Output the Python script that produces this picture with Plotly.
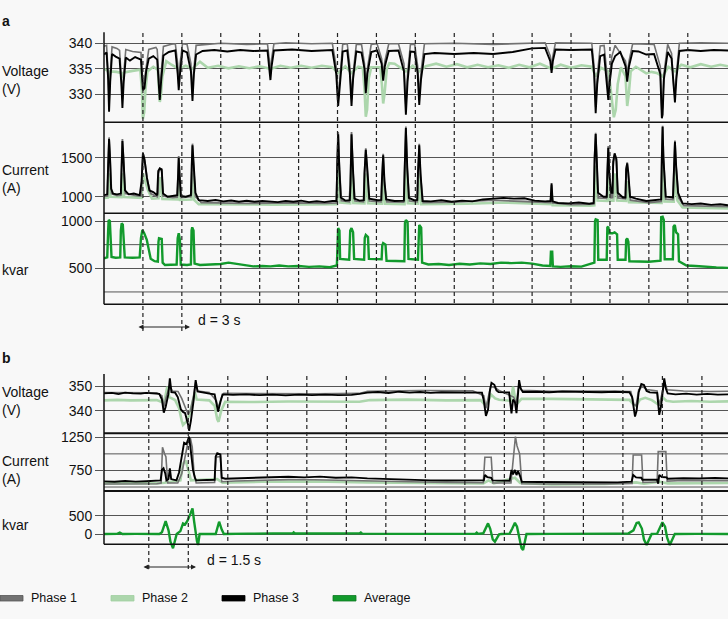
import plotly.graph_objects as go

# ---------------- DATA (time in s) ----------------
# Panel a: voltage (V)
VA_P1 = [(0.0, 339.4), (0.2, 339.6), (0.32, 334), (0.39, 328), (0.48, 334), (0.62, 339.3), (1.0, 339.0), (1.2, 338.6),
         (1.34, 333), (1.42, 329), (1.52, 334), (1.68, 338.8), (2.2, 338.4), (2.85, 338.2), (2.95, 334), (3.0, 332),
         (3.12, 333), (3.25, 335.5), (3.45, 338.8), (4.0, 339.2), (4.1, 338.8), (4.22, 334), (4.3, 330.5), (4.4, 334),
         (4.58, 339.4), (5.2, 339.8), (5.5, 339.9), (5.68, 336), (5.76, 332), (5.86, 336), (6.05, 339.9), (6.4, 339.8),
         (6.7, 336), (6.82, 330), (6.93, 335), (7.1, 339.6), (9.0, 340.0), (11.0, 339.8), (12.6, 339.9), (12.75, 336.5),
         (12.83, 334), (12.92, 337), (13.1, 339.9), (14.0, 340.1), (16.0, 339.9), (17.6, 340.0), (17.9, 335.5), (18.05, 329),
         (18.2, 334), (18.4, 339.8), (18.75, 339.9), (18.95, 335.5), (19.08, 329), (19.2, 334), (19.45, 339.8), (19.85, 339.8),
         (20.08, 336), (20.18, 331.5), (20.3, 335), (20.6, 339.8), (21.05, 339.9), (21.4, 337), (21.52, 334), (21.65, 336.5),
         (21.95, 339.9), (22.7, 339.9), (23.12, 336), (23.27, 327.5), (23.4, 334), (23.62, 339.8), (23.95, 339.8), (24.18, 335.5),
         (24.3, 329.5), (24.44, 334.5), (24.7, 339.9), (27.0, 340.0), (30.0, 339.8), (33.0, 340.1), (34.0, 340.1), (34.4, 337.5),
         (34.5, 335.5), (34.6, 337.5), (34.8, 340.1), (37.6, 340.0), (37.78, 335.5), (37.9, 327.5), (38.02, 333.5), (38.25, 339.5),
         (38.55, 339.6), (38.75, 334.5), (38.87, 330.5), (38.97, 333.5), (39.15, 337.5), (39.4, 339.6), (40.2, 336.5),
         (40.33, 334), (40.47, 336.5), (40.75, 339.9), (42.4, 339.8), (42.88, 335.5), (43.0, 326.5), (43.06, 327.5), (43.16, 334),
         (43.45, 339.8), (43.75, 338.0), (43.92, 331.5), (44.01, 330), (44.12, 334), (44.35, 340.0), (46.0, 340.1), (48.1, 340.0)]
VA_P2 = [(0.0, 335.0), (0.3, 334.6), (0.39, 333.0), (0.5, 334.5), (0.97, 334.4), (1.35, 334.2), (1.42, 333.3), (1.55, 334.3),
         (2.2, 334.6), (2.8, 334.8), (2.92, 331), (3.0, 325.2), (3.1, 326.5), (3.2, 331), (3.35, 334.5), (3.8, 335.4),
         (4.15, 334.8), (4.25, 330), (4.3, 328.5), (4.38, 329.5), (4.5, 333.5), (4.8, 336.5), (5.2, 335.8), (5.76, 335.0),
         (6.3, 335.6), (6.82, 335.0), (7.4, 336.4), (8.0, 335.2), (8.8, 335.6), (9.6, 335.1), (10.4, 335.5), (11.2, 335.1),
         (12.0, 335.5), (12.83, 335.0), (13.6, 335.6), (14.4, 335.2), (15.2, 335.6), (16.0, 335.2), (16.8, 335.6), (17.6, 335.3),
         (18.05, 334.2), (18.6, 335.5), (19.08, 334.2), (19.6, 335.4), (19.95, 335.2), (20.08, 331), (20.18, 325.6), (20.28, 327),
         (20.4, 333), (20.6, 335.3), (21.3, 335.3), (21.42, 332), (21.52, 328.2), (21.62, 330), (21.8, 335), (22.0, 336.1),
         (22.4, 336.0), (22.8, 335.3), (23.27, 334.5), (23.8, 335.6), (24.3, 334.5), (24.8, 335.5), (25.6, 336.0), (26.4, 335.4),
         (27.2, 335.9), (28.0, 335.3), (28.8, 335.8), (29.6, 335.3), (30.4, 335.7), (31.2, 335.2), (32.0, 335.8), (32.8, 335.3),
         (33.6, 336.0), (34.5, 335.0), (35.2, 335.8), (36.0, 335.2), (36.8, 335.7), (37.6, 335.4), (37.9, 333.5), (38.3, 335.2),
         (38.9, 334.5), (39.1, 330), (39.3, 325.5), (39.45, 327), (39.6, 332), (39.85, 335.3), (40.2, 333.5), (40.33, 327.7),
         (40.45, 330), (40.6, 334.5), (41.0, 335.4), (41.5, 334.6), (41.8, 334.1), (42.2, 334.4), (42.6, 334.2), (43.06, 333.5),
         (43.5, 335.4), (44.01, 334.5), (44.5, 335.8), (45.2, 335.3), (46.0, 335.9), (46.8, 335.4), (47.5, 335.8), (48.1, 335.5)]
VA_P3 = [(0.0, 337.8), (0.2, 338.2), (0.32, 333.0), (0.39, 326.6), (0.48, 332.5), (0.62, 337.9), (0.9, 337.4), (1.2, 337.0),
         (1.34, 332.0), (1.42, 327.3), (1.52, 332.5), (1.68, 337.2), (2.0, 336.6), (2.4, 337.3), (2.85, 336.8), (2.95, 332.5),
         (3.0, 330.8), (3.12, 331.2), (3.25, 334.5), (3.45, 337.0), (3.8, 337.5), (4.1, 336.8), (4.22, 332.0), (4.3, 328.9),
         (4.4, 332.5), (4.58, 337.6), (5.0, 338.3), (5.5, 338.6), (5.68, 334.0), (5.76, 330.8), (5.86, 334.0), (6.05, 338.6),
         (6.4, 338.2), (6.7, 334.5), (6.82, 328.7), (6.93, 334.0), (7.1, 337.8), (7.6, 338.5), (8.5, 338.7), (9.5, 338.4),
         (10.5, 338.7), (11.5, 338.5), (12.6, 338.6), (12.75, 335.0), (12.83, 332.8), (12.92, 335.5), (13.1, 338.6), (14.5, 338.8),
         (16.0, 338.5), (17.6, 338.7), (17.9, 334.0), (18.05, 327.7), (18.2, 333.0), (18.4, 338.4), (18.75, 338.6), (18.95, 334.0),
         (19.08, 327.7), (19.2, 333.0), (19.45, 338.4), (19.85, 338.2), (20.08, 335.0), (20.18, 330.2), (20.3, 334.0), (20.6, 338.3),
         (21.05, 338.6), (21.4, 336.0), (21.52, 332.7), (21.65, 335.5), (21.95, 338.5), (22.7, 338.6), (23.12, 334.5), (23.27, 326.0),
         (23.4, 332.5), (23.62, 338.4), (23.95, 338.3), (24.18, 334.0), (24.3, 327.9), (24.44, 333.0), (24.7, 337.9), (25.5, 338.1),
         (27.0, 337.9), (28.5, 338.1), (30.0, 337.9), (31.5, 338.3), (33.0, 339.0), (34.0, 339.1), (34.4, 336.5), (34.5, 334.2),
         (34.6, 336.5), (34.8, 338.8), (36.0, 338.7), (37.6, 338.8), (37.78, 334.0), (37.9, 326.3), (38.02, 332.0), (38.25, 337.5),
         (38.55, 337.8), (38.75, 333.0), (38.87, 328.9), (38.97, 332.0), (39.15, 336.0), (39.4, 337.5), (39.8, 338.3), (40.2, 335.5),
         (40.33, 332.5), (40.47, 335.5), (40.75, 338.5), (41.2, 338.4), (41.8, 337.8), (42.4, 337.9), (42.88, 334.0), (43.0, 325.3),
         (43.06, 326.0), (43.16, 333.0), (43.45, 338.3), (43.75, 337.0), (43.92, 330.0), (44.01, 328.4), (44.12, 333.0),
         (44.35, 338.5), (45.0, 338.7), (46.0, 338.5), (47.0, 338.7), (48.1, 338.6)]

# Panel a: current (A)
IA_P1 = [(0.0, 1005), (0.27, 1010), (0.32, 1400), (0.39, 1760), (0.47, 1500), (0.58, 1040), (1.0, 1015), (1.3, 1020),
         (1.36, 1450), (1.42, 1740), (1.52, 1400), (1.65, 1040), (2.3, 1020), (2.85, 1010), (2.9, 1150), (3.0, 1560),
         (3.15, 1450), (3.35, 1200), (3.6, 1040), (4.1, 1000), (4.16, 1050), (4.2, 1300), (4.3, 1350), (4.45, 1330),
         (4.55, 1010), (5.3, 990), (5.64, 995), (5.7, 1200), (5.76, 1520), (5.84, 1250), (5.95, 990), (6.7, 1000), (6.74, 1050),
         (6.78, 1380), (6.82, 1680), (6.9, 1400), (7.05, 1000), (7.5, 925), (9.0, 920), (11.0, 915), (13.0, 918), (15.0, 922),
         (17.0, 915), (17.92, 920), (17.98, 1450), (18.05, 1830), (18.15, 1350), (18.3, 950), (18.9, 935), (18.98, 1150),
         (19.08, 1830), (19.18, 1350), (19.35, 945), (20.0, 935), (20.08, 1300), (20.18, 1620), (20.3, 1300), (20.45, 945),
         (21.35, 935), (21.42, 1200), (21.52, 1550), (21.62, 1150), (21.8, 935), (23.1, 930), (23.17, 1350), (23.27, 1900),
         (23.37, 1350), (23.55, 945), (24.13, 935), (24.2, 1300), (24.3, 1680), (24.4, 1250), (24.6, 925), (27.0, 930),
         (30.0, 955), (33.0, 935), (34.42, 925), (34.5, 1150), (34.58, 920), (36.0, 900), (37.75, 905), (37.82, 1520),
         (37.9, 1820), (37.98, 1450), (38.1, 985), (38.73, 980), (38.8, 1350), (38.87, 1650), (38.95, 1250), (39.1, 985),
         (39.2, 990), (39.25, 1400), (39.36, 1540), (39.5, 1450), (39.62, 985), (40.18, 975), (40.25, 1350), (40.33, 1440),
         (40.42, 1250), (40.58, 955), (42.0, 925), (42.95, 940), (43.0, 1550), (43.06, 1910), (43.12, 1550), (43.3, 970),
         (43.86, 965), (43.93, 1450), (44.01, 1720), (44.1, 1380), (44.3, 985), (44.7, 885), (46.5, 878), (48.1, 872)]
IA_P2 = [(0.0, 985), (0.3, 990), (0.39, 1300), (0.5, 1000), (1.35, 995), (1.42, 1300), (1.55, 995), (2.5, 990), (2.9, 985),
         (3.0, 1300), (3.4, 1080), (3.7, 975), (4.2, 980), (4.3, 1250), (4.5, 970), (5.68, 965), (5.76, 1250), (5.86, 960),
         (6.74, 965), (6.82, 1300), (6.95, 960), (7.3, 905), (10.0, 900), (13.0, 898), (16.0, 902), (17.95, 905), (18.05, 1400),
         (18.2, 925), (18.98, 915), (19.08, 1400), (19.22, 920), (20.08, 915), (20.18, 1300), (20.35, 915), (21.42, 910),
         (21.52, 1250), (21.65, 910), (23.17, 905), (23.27, 1400), (23.42, 915), (24.2, 910), (24.3, 1300), (24.45, 905),
         (28.0, 910), (31.0, 925), (34.0, 910), (34.45, 905), (34.5, 1050), (34.58, 890), (37.5, 885), (37.8, 890), (37.9, 1400),
         (38.05, 950), (38.78, 945), (38.87, 1300), (38.98, 950), (39.27, 950), (39.36, 1300), (39.55, 950), (40.25, 945),
         (40.33, 1200), (40.47, 930), (42.9, 915), (42.98, 920), (43.06, 1450), (43.2, 940), (43.92, 935), (44.01, 1350),
         (44.2, 950), (44.6, 862), (48.1, 850)]
IA_P3 = [(0.0, 1020), (0.25, 1030), (0.32, 1400), (0.39, 1740), (0.45, 1550), (0.55, 1100), (0.7, 1040), (1.0, 1030),
         (1.3, 1040), (1.36, 1450), (1.42, 1714), (1.5, 1500), (1.62, 1080), (1.9, 1030), (2.3, 1040), (2.75, 1020), (2.9, 1200),
         (3.0, 1556), (3.12, 1480), (3.3, 1250), (3.5, 1080), (3.8, 1060), (4.1, 1020), (4.18, 1330), (4.3, 1364), (4.45, 1350),
         (4.55, 1040), (4.9, 1000), (5.3, 1010), (5.65, 1020), (5.72, 1300), (5.76, 1500), (5.82, 1300), (5.92, 1010), (6.3, 1000),
         (6.7, 1020), (6.76, 1400), (6.82, 1659), (6.9, 1450), (7.05, 1050), (7.3, 955), (8.0, 945), (8.6, 958), (9.2, 940),
         (9.8, 952), (10.4, 935), (11.0, 948), (11.6, 935), (12.2, 945), (12.83, 940), (13.4, 930), (14.0, 945), (14.6, 935),
         (15.2, 950), (15.8, 930), (16.4, 942), (17.0, 930), (17.6, 945), (17.92, 945), (17.98, 1400), (18.05, 1800),
         (18.12, 1450), (18.25, 990), (18.6, 950), (18.95, 955), (19.0, 1150), (19.08, 1800), (19.18, 1400), (19.3, 975),
         (19.7, 950), (20.03, 955), (20.08, 1300), (20.18, 1600), (20.3, 1350), (20.45, 975), (21.1, 955), (21.38, 958),
         (21.42, 1200), (21.52, 1530), (21.62, 1200), (21.75, 965), (22.4, 945), (23.12, 950), (23.17, 1300), (23.27, 1880),
         (23.37, 1400), (23.5, 985), (23.9, 955), (24.15, 960), (24.2, 1300), (24.3, 1660), (24.4, 1300), (24.55, 945),
         (25.2, 940), (26.0, 955), (26.8, 935), (27.6, 950), (28.4, 940), (29.2, 965), (30.0, 975), (30.8, 985), (31.6, 975),
         (32.4, 980), (33.2, 950), (34.0, 940), (34.42, 945), (34.5, 1172), (34.58, 940), (35.0, 920), (35.8, 915), (36.6, 925),
         (37.4, 910), (37.75, 920), (37.82, 1500), (37.9, 1804), (37.98, 1500), (38.08, 1050), (38.5, 1000), (38.76, 1000),
         (38.8, 1300), (38.87, 1628), (38.95, 1300), (39.1, 1050), (39.2, 1050), (39.25, 1450), (39.36, 1556), (39.5, 1480),
         (39.6, 1050), (40.0, 990), (40.2, 990), (40.25, 1350), (40.33, 1428), (40.42, 1300), (40.55, 1000), (41.0, 975),
         (41.8, 945), (42.5, 955), (42.95, 965), (43.0, 1500), (43.06, 1897), (43.12, 1500), (43.3, 1000), (43.86, 990),
         (43.93, 1400), (44.01, 1705), (44.1, 1400), (44.25, 1050), (44.6, 915), (45.3, 905), (46.0, 912), (46.8, 895),
         (47.5, 903), (48.1, 890)]

# Panel a: reactive power (kvar), average
QA_AVG = [(0.0, 606), (0.25, 615), (0.32, 900), (0.36, 1010), (0.45, 1000), (0.5, 760), (0.58, 620), (0.9, 612), (1.25, 615),
          (1.3, 900), (1.36, 976), (1.45, 960), (1.52, 700), (1.6, 616), (2.2, 612), (2.75, 615), (2.85, 820), (2.96, 905),
          (3.1, 870), (3.3, 800), (3.45, 700), (3.6, 600), (3.9, 575), (4.15, 570), (4.2, 780), (4.24, 817), (4.45, 810),
          (4.52, 560), (4.7, 535), (5.3, 535), (5.6, 540), (5.68, 820), (5.76, 870), (5.85, 800), (5.92, 540), (6.4, 535),
          (6.7, 540), (6.75, 900), (6.8, 933), (6.9, 900), (6.98, 550), (7.4, 535), (8.2, 540), (9.0, 545), (9.6, 560),
          (10.2, 545), (10.8, 530), (11.5, 520), (12.2, 525), (12.83, 520), (13.5, 530), (14.2, 520), (15.0, 525), (15.8, 515),
          (16.6, 520), (17.4, 512), (17.95, 530), (18.0, 900), (18.05, 925), (18.15, 900), (18.2, 600), (18.9, 590), (18.98, 900),
          (19.08, 925), (19.2, 880), (19.28, 600), (20.05, 590), (20.1, 820), (20.18, 852), (20.35, 830), (20.42, 600),
          (21.4, 595), (21.45, 740), (21.52, 767), (21.7, 750), (21.78, 580), (23.15, 575), (23.2, 980), (23.27, 1010),
          (23.4, 990), (23.47, 600), (24.2, 590), (24.25, 930), (24.3, 958), (24.45, 930), (24.52, 560), (25.0, 540),
          (25.8, 545), (26.6, 535), (27.4, 548), (28.2, 540), (29.0, 552), (29.8, 545), (30.6, 560), (31.4, 555), (32.2, 560),
          (33.0, 550), (33.8, 530), (34.4, 525), (34.45, 676), (34.55, 676), (34.6, 520), (35.2, 515), (36.0, 522), (36.8, 518),
          (37.6, 550), (37.8, 560), (37.85, 1000), (37.9, 1018), (38.05, 1010), (38.1, 590), (38.75, 590), (38.8, 930),
          (38.87, 940), (38.95, 870), (39.2, 870), (39.36, 880), (39.55, 860), (39.6, 590), (40.2, 590), (40.25, 800),
          (40.33, 817), (40.42, 780), (40.5, 575), (41.2, 575), (42.0, 570), (42.9, 580), (42.95, 1040), (43.06, 1045),
          (43.15, 1010), (43.22, 595), (43.85, 595), (43.9, 940), (44.0, 958), (44.1, 880), (44.25, 860), (44.32, 575),
          (44.5, 560), (44.9, 530), (45.6, 525), (46.4, 515), (47.2, 510), (48.1, 505)]

# Panel b: voltage (V)
VB_P1 = [(0.0, 347.3), (1.0, 347.3), (2.0, 347.2), (2.2, 346.0), (2.27, 341.5), (2.36, 345.5), (2.45, 348.5), (2.52, 349.5),
         (2.6, 348.0), (2.81, 347.8), (2.95, 345.0), (3.1, 341.0), (3.2, 338.5), (3.28, 340.0), (3.4, 346.0), (3.48, 351.5),
         (3.56, 348.0), (4.0, 347.4), (4.27, 344.0), (4.33, 341.0), (4.45, 345.0), (4.55, 347.0), (6.0, 346.8), (8.0, 346.8),
         (9.7, 347.0), (10.0, 347.9), (12.0, 348.2), (14.0, 348.1), (14.42, 346.0), (14.5, 341.0), (14.6, 346.0), (14.68, 349.8),
         (14.85, 349.3), (15.0, 348.2), (15.45, 346.0), (15.55, 345.5), (15.65, 343.0), (15.75, 350.5), (15.85, 348.3),
         (17.0, 347.9), (19.0, 348.0), (20.0, 347.8), (20.12, 342.5), (20.2, 342.0), (20.3, 348.5), (20.45, 349.8), (20.6, 348.6),
         (21.0, 348.0), (21.08, 342.0), (21.2, 348.0), (21.28, 351.5), (21.38, 348.5), (22.0, 348.0), (23.0, 347.8), (23.7, 347.9)]
VB_P2 = [(0.0, 344.2), (0.5, 344.4), (1.0, 344.2), (1.5, 344.4), (2.0, 344.3), (2.2, 343.5), (2.3, 344.0), (2.4, 349.7),
         (2.48, 345.5), (2.7, 344.3), (2.85, 341.0), (2.95, 336.0), (3.0, 334.2), (3.12, 335.5), (3.25, 338.5), (3.35, 343.0),
         (3.45, 347.5), (3.52, 344.5), (4.0, 344.2), (4.2, 342.0), (4.3, 336.5), (4.35, 335.5), (4.45, 340.0), (4.6, 343.6),
         (5.5, 343.5), (7.0, 343.7), (8.5, 343.5), (9.7, 343.6), (10.1, 344.3), (11.5, 344.5), (13.0, 344.2), (14.3, 344.3),
         (14.45, 342.5), (14.55, 343.0), (14.7, 346.5), (14.85, 345.0), (15.0, 344.4), (15.45, 344.0), (15.53, 349.7),
         (15.6, 345.5), (15.7, 343.0), (15.85, 344.8), (17.0, 344.8), (18.5, 344.5), (19.95, 344.4), (20.1, 342.5), (20.2, 342.0),
         (20.35, 344.5), (20.55, 345.2), (20.8, 344.3), (21.05, 342.5), (21.2, 345.5), (21.35, 344.0), (21.6, 343.6),
         (22.3, 343.9), (23.0, 343.6), (23.7, 343.8)]
VB_P3 = [(0.0, 347.0), (0.3, 347.2), (0.55, 346.7), (0.8, 347.3), (1.1, 347.0), (1.4, 346.9), (1.6, 347.2), (1.9, 347.0),
         (2.1, 346.8), (2.2, 344.5), (2.27, 339.2), (2.34, 341.5), (2.44, 346.5), (2.5, 353.1), (2.56, 347.5), (2.7, 347.3),
         (2.8, 345.5), (2.92, 340.5), (3.0, 339.5), (3.08, 339.0), (3.13, 337.2), (3.2, 334.0), (3.23, 331.9), (3.3, 336.0),
         (3.4, 344.0), (3.45, 350.5), (3.48, 352.4), (3.55, 347.8), (3.75, 347.3), (4.0, 346.9), (4.2, 346.6), (4.27, 342.5),
         (4.33, 339.6), (4.42, 343.5), (4.5, 346.6), (4.9, 346.4), (5.4, 346.6), (5.9, 346.3), (6.4, 346.5), (6.9, 346.2),
         (7.4, 346.5), (7.9, 346.3), (8.4, 346.5), (8.9, 346.3), (9.4, 346.4), (9.7, 346.8), (10.0, 347.3), (10.4, 347.6),
         (10.8, 347.2), (11.2, 347.7), (11.6, 347.3), (12.0, 347.6), (12.4, 347.2), (12.8, 347.5), (13.2, 347.4), (13.6, 347.6),
         (14.0, 347.4), (14.35, 347.3), (14.42, 344.0), (14.5, 337.9), (14.58, 340.5), (14.65, 348.0), (14.71, 351.3),
         (14.82, 350.5), (14.9, 348.2), (14.98, 347.5), (15.38, 347.4), (15.43, 342.0), (15.47, 338.9), (15.53, 344.5),
         (15.6, 343.5), (15.66, 339.0), (15.72, 347.0), (15.76, 352.4), (15.82, 349.0), (15.9, 347.6), (16.4, 347.7),
         (16.9, 347.5), (17.4, 347.8), (17.9, 347.6), (18.4, 347.7), (18.9, 347.5), (19.4, 347.7), (19.95, 347.5), (20.05, 345.5),
         (20.16, 337.6), (20.22, 340.0), (20.3, 347.5), (20.4, 350.8), (20.5, 350.4), (20.6, 348.0), (20.72, 347.4), (21.0, 347.2),
         (21.05, 343.0), (21.08, 338.3), (21.15, 342.0), (21.22, 349.0), (21.27, 353.1), (21.33, 349.0), (21.4, 347.0),
         (21.7, 346.6), (22.1, 346.9), (22.5, 346.5), (22.9, 346.8), (23.3, 346.5), (23.7, 346.6)]

# Panel b: current (A)
IB_P1 = [(0.0, 545), (1.0, 545), (2.0, 550), (2.17, 560), (2.22, 1099), (2.3, 1000), (2.35, 958), (2.42, 560), (2.8, 560),
         (2.95, 700), (3.1, 1000), (3.2, 1200), (3.28, 1235), (3.35, 1100), (3.42, 700), (3.5, 560), (4.2, 570), (4.25, 950),
         (4.42, 960), (4.47, 580), (5.0, 590), (6.0, 605), (7.0, 612), (8.0, 610), (9.0, 600), (10.0, 590), (11.0, 580),
         (12.0, 572), (13.0, 568), (14.4, 565), (14.46, 949), (14.7, 949), (14.76, 560), (15.45, 560), (15.5, 800), (15.56, 1080),
         (15.62, 1259), (15.68, 1120), (15.78, 1000), (15.86, 550), (17.0, 545), (19.0, 548), (20.05, 555), (20.09, 983),
         (20.41, 983), (20.46, 570), (21.0, 575), (21.04, 1033), (21.33, 1033), (21.38, 590), (22.0, 598), (23.0, 595), (23.7, 597)]
IB_P2 = [(0.0, 555), (1.0, 552), (2.0, 555), (2.3, 565), (2.9, 600), (3.0, 850), (3.1, 900), (3.2, 760), (3.3, 600), (4.3, 620),
         (4.5, 565), (6.0, 580), (8.0, 585), (10.0, 570), (12.0, 560), (14.4, 555), (14.6, 600), (14.8, 555), (15.6, 640),
         (15.8, 560), (17.0, 540), (19.0, 545), (20.2, 570), (20.5, 550), (21.1, 580), (21.4, 555), (23.7, 560)]
IB_P3 = [(0.0, 585), (0.4, 580), (0.8, 590), (1.2, 582), (1.6, 588), (1.9, 592), (2.15, 600), (2.2, 760), (2.26, 783),
         (2.33, 700), (2.37, 600), (2.45, 620), (2.5, 783), (2.55, 620), (2.75, 600), (2.85, 720), (2.93, 900), (3.0, 1100),
         (3.04, 1169), (3.13, 1149), (3.2, 1220), (3.23, 1259), (3.28, 1100), (3.32, 958), (3.38, 757), (3.45, 640), (3.5, 600),
         (3.9, 605), (4.2, 610), (4.24, 960), (4.3, 1009), (4.42, 990), (4.47, 640), (4.6, 625), (5.2, 630), (5.8, 640),
         (6.4, 648), (7.0, 655), (7.6, 645), (8.2, 657), (8.8, 640), (9.4, 645), (10.0, 630), (10.6, 620), (11.2, 615),
         (11.8, 610), (12.4, 600), (13.0, 598), (13.6, 595), (14.3, 595), (14.42, 600), (14.46, 682), (14.55, 650), (14.7, 640),
         (14.75, 600), (15.4, 595), (15.47, 757), (15.53, 690), (15.6, 757), (15.66, 680), (15.72, 740), (15.8, 660),
         (15.86, 580), (16.5, 575), (17.5, 570), (18.5, 575), (19.5, 570), (20.03, 580), (20.09, 682), (20.2, 645), (20.4, 640),
         (20.44, 610), (21.0, 610), (21.04, 550), (21.08, 682), (21.18, 650), (21.36, 645), (21.4, 625), (22.0, 633),
         (22.6, 628), (23.2, 636), (23.7, 630)]

# Panel b: reactive power (kvar), average
QB_AVG = [(0.0, 0), (0.5, 5), (0.6, 40), (0.7, 0), (1.2, 5), (1.7, 0), (2.1, 0), (2.2, 50), (2.34, 355), (2.45, 100),
          (2.52, -200), (2.62, -390), (2.7, -150), (2.76, 0), (2.9, 80), (3.0, 291), (3.08, 260), (3.17, 363), (3.28, 550),
          (3.36, 701), (3.42, 350), (3.48, 0), (3.53, -200), (3.57, -300), (3.63, 0), (4.24, 0), (4.37, 336), (4.47, 120),
          (4.55, 0), (5.5, 10), (6.5, 15), (7.17, 20), (7.2, 45), (7.25, 15), (8.0, 15), (9.0, 10), (9.71, 20), (9.75, 40),
          (9.8, 10), (11.0, 5), (12.5, 0), (14.1, 5), (14.15, 40), (14.2, 5), (14.4, 20), (14.5, 150), (14.58, 291), (14.66, 150),
          (14.76, -150), (14.84, -210), (14.92, -100), (15.0, -10), (15.09, 0), (15.4, 10), (15.5, 150), (15.6, 309),
          (15.68, 200), (15.76, -100), (15.85, -380), (15.91, -437), (15.97, -200), (16.04, 0), (17.0, 5), (18.0, 0),
          (19.5, 10), (19.9, 15), (20.1, 100), (20.22, 300), (20.3, 319), (20.42, 150), (20.5, -150), (20.6, -300),
          (20.68, -150), (20.79, 0), (21.0, 10), (21.1, 150), (21.2, 319), (21.3, 200), (21.38, -100), (21.48, -300),
          (21.56, -150), (21.67, 0), (22.5, 5), (23.7, 0)]

TICKS_VA = [330, 335, 340]
TICKS_IA = [1000, 1500]
TICKS_QA = [500, 1000]
EXTRA_QA = [250, 750]
TICKS_VB = [340, 350]
TICKS_IB = [750, 1250]
EXTRA_IB = [500, 1000]
TICKS_QB = [0, 500]
LEGEND_NAMES = ["Phase 1", "Phase 2", "Phase 3", "Average"]

# ---------------- STYLE / LAYOUT ----------------
W, H = 728, 619
L = 104
PW = W - L
BG = "#f8f8f8"
C_P1, C_P2, C_P3, C_AVG = "#727272", "#acd6ac", "#000000", "#129a2c"
GRID = "#555555"
FONT = "Liberation Sans, Arial, Helvetica, sans-serif"


def fx(px):
    return (px - L) / PW


def fy(py):
    return 1 - py / H


fig = go.Figure()


def add(pairs, xa, ya, color, width):
    t = [p[0] for p in pairs]
    v = [p[1] for p in pairs]
    fig.add_trace(go.Scatter(x=t, y=v, xaxis=xa, yaxis=ya, mode="lines",
                             line=dict(color=color, width=width), showlegend=False,
                             hoverinfo="skip"))


add(VA_P2, "x", "y", C_P2, 2.6)
add(VA_P1, "x", "y", C_P1, 1.6)
add(VA_P3, "x", "y", C_P3, 1.9)
add(IA_P2, "x", "y2", C_P2, 2.6)
add(IA_P1, "x", "y2", C_P1, 1.8)
add(IA_P3, "x", "y2", C_P3, 1.9)
add(QA_AVG, "x", "y3", C_AVG, 2.4)
add(VB_P2, "x2", "y4", C_P2, 2.6)
add(VB_P1, "x2", "y4", C_P1, 1.6)
add(VB_P3, "x2", "y4", C_P3, 1.9)
add(IB_P2, "x2", "y5", C_P2, 2.6)
add(IB_P1, "x2", "y5", C_P1, 1.6)
add(IB_P3, "x2", "y5", C_P3, 1.9)
add(QB_AVG, "x2", "y6", C_AVG, 2.4)

xcommon = dict(domain=[0, 1], showgrid=False, showticklabels=False, zeroline=False,
               showline=False, ticks="", fixedrange=True)


def yax(dom_px, rng, ticks, anchor):
    return dict(domain=[fy(dom_px[1]), fy(dom_px[0])], range=rng, tickvals=ticks,
                anchor=anchor, showgrid=True, gridcolor=GRID, gridwidth=1, zeroline=False,
                showline=False, ticks="outside", ticklen=8, tickcolor=GRID, tickwidth=1,
                tickfont=dict(size=14, color="#111111", family=FONT), automargin=False,
                fixedrange=True)


fig.update_layout(
    width=W, height=H, margin=dict(l=L, r=0, t=0, b=0),
    paper_bgcolor=BG, plot_bgcolor=BG, font=dict(family=FONT, size=14, color="#111111"),
    xaxis=dict(xcommon, range=[0, 48.1]),
    xaxis2=dict(xcommon, range=[0, 23.69]),
    yaxis=yax((32.3, 122.3), [324.51, 342.16], TICKS_VA, "x"),
    yaxis2=yax((122.3, 213.3), [787.2, 1953.8], TICKS_IA, "x"),
    yaxis3=yax((213.3, 304.3), [119.5, 1081.4], TICKS_QA, "x"),
    yaxis4=yax((374.0, 433.3), [330.85, 354.86], TICKS_VB, "x2"),
    yaxis5=yax((433.3, 491.0), [440, 1310], TICKS_IB, "x2"),
    yaxis6=yax((491.0, 554.0), [-546, 1175], TICKS_QB, "x2"),
)

shapes = []
for v in EXTRA_QA:
    shapes.append(dict(type="line", xref="paper", yref="y3", x0=0, x1=1, y0=v, y1=v,
                       line=dict(color=GRID, width=1), layer="below"))
for v in EXTRA_IB:
    shapes.append(dict(type="line", xref="paper", yref="y5", x0=0, x1=1, y0=v, y1=v,
                       line=dict(color=GRID, width=1), layer="below"))
for p, w in [(122.3, 1.4), (213.3, 1.4), (304.3, 1.4), (433.3, 2), (491.0, 2), (544.3, 1.6)]:
    shapes.append(dict(type="line", xref="paper", yref="paper", x0=0, x1=1, y0=fy(p), y1=fy(p),
                       line=dict(color="#111111", width=w)))
for a, b in [(32.3, 304.3), (374.0, 544.3)]:
    shapes.append(dict(type="line", xref="paper", yref="paper", x0=0, x1=0, y0=fy(a), y1=fy(b),
                       line=dict(color="#111111", width=1.5)))
for k in range(1, 16):
    bottom = 331 if k <= 2 else 304.3
    shapes.append(dict(type="line", xref="x", yref="paper", x0=3 * k, x1=3 * k, y0=fy(33), y1=fy(bottom),
                       line=dict(color="#222222", width=1.2, dash="4px,3px")))
for k in range(0, 15):
    bottom = 570 if k <= 1 else 544.3
    t = 1.70 + 1.5 * k
    shapes.append(dict(type="line", xref="x2", yref="paper", x0=t, x1=t, y0=fy(376), y1=fy(bottom),
                       line=dict(color="#222222", width=1.2, dash="4px,3px")))
leg_colors = [(C_P1, "#555555"), (C_P2, "#9fcf9f"), (C_P3, "#000000"), (C_AVG, "#0c7a22")]
leg_x = [0, 111, 222, 333]
for (fc, lc), x0 in zip(leg_colors, leg_x):
    shapes.append(dict(type="rect", xref="paper", yref="paper", x0=fx(x0), x1=fx(x0 + 23),
                       y0=fy(601), y1=fy(595.5), fillcolor=fc, line=dict(color=lc, width=0.8)))
fig.update_layout(shapes=shapes)

ann = []


def txt(px, py, s, size=14, bold=False, xanchor="left", family=FONT):
    ann.append(dict(x=fx(px), y=fy(py), xref="paper", yref="paper", text=("<b>%s</b>" % s) if bold else s,
                    showarrow=False, xanchor=xanchor, yanchor="middle", align="left",
                    font=dict(size=size, family=family, color="#111111")))


txt(0, 21, "a", bold=True)
txt(0, 358, "b", bold=True)
txt(0, 80, "Voltage<br>(V)")
txt(0, 179, "Current<br>(A)")
txt(0, 270, "kvar")
txt(0, 401, "Voltage<br>(V)")
txt(0, 470, "Current<br>(A)")
txt(0, 525, "kvar")
txt(196, 320, "d = 3 s")
txt(205, 560, "d = 1.5 s")
for name, x0 in zip(LEGEND_NAMES, leg_x):
    txt(x0 + 29, 598, name, size=12.5)

for (xa_, xb_, yy) in [(137, 190, 327), (142, 196, 567)]:
    ann.append(dict(x=fx(xb_), y=fy(yy), xref="paper", yref="paper", ax=xa_ - xb_, ay=0,
                    axref="pixel", ayref="pixel", showarrow=True, text="", arrowhead=2,
                    arrowside="end+start", arrowsize=1, arrowwidth=1, arrowcolor="#222222",
                    standoff=0, startstandoff=0))
fig.update_layout(annotations=ann)

fig.write_html("out.html", config={"displayModeBar": False},
               post_script="document.body.style.margin='0';document.body.style.padding='0';")
